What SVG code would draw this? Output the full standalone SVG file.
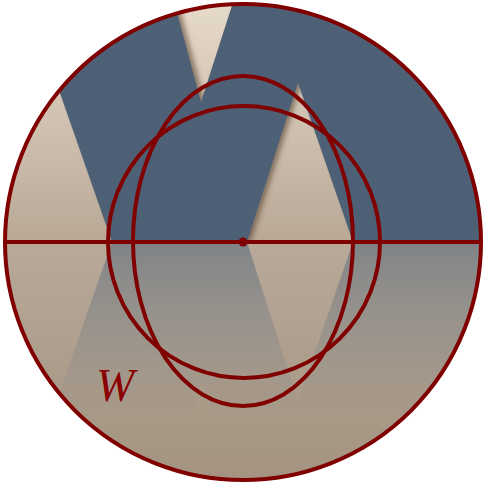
<svg xmlns="http://www.w3.org/2000/svg" width="486" height="486" viewBox="0 0 486 486">
  <defs>
    <clipPath id="top"><path d="M5,242 A238,238 0 0 1 481,242 Z"/></clipPath>
    <clipPath id="bot"><path d="M5,242 A238,238 0 0 0 481,242 Z"/></clipPath>
    <linearGradient id="beigeTop" gradientUnits="userSpaceOnUse" x1="0" y1="4" x2="0" y2="242">
      <stop offset="0" stop-color="#e6dacb"/>
      <stop offset="1" stop-color="#b9a896"/>
    </linearGradient>
    <linearGradient id="beigeBot" gradientUnits="userSpaceOnUse" x1="0" y1="242" x2="0" y2="480">
      <stop offset="0" stop-color="#b8a999"/>
      <stop offset="1" stop-color="#a39380"/>
    </linearGradient>
    <linearGradient id="reflect" gradientUnits="userSpaceOnUse" x1="0" y1="242" x2="0" y2="420">
      <stop offset="0" stop-color="#7f8387" stop-opacity="1"/>
      <stop offset="1" stop-color="#8a8a88" stop-opacity="0"/>
    </linearGradient>
    <filter id="shadow" x="-20%" y="-20%" width="140%" height="140%">
      <feGaussianBlur in="SourceAlpha" stdDeviation="2.5"/>
      <feOffset dx="4" dy="0" result="b"/>
      <feFlood flood-color="#5a4530" flood-opacity="0.6"/>
      <feComposite in2="b" operator="in"/>
      <feMerge><feMergeNode/><feMergeNode in="SourceGraphic"/></feMerge>
    </filter>
  </defs>
  <style>
    .ln{fill:none;stroke:#800000;stroke-width:4}
  </style>
  <g id="background">
    <path d="M5,242 A238,238 0 0 1 481,242 Z" fill="url(#beigeTop)"/>
    <path d="M5,242 A238,238 0 0 0 481,242 Z" fill="url(#beigeBot)"/>
    <polygon clip-path="url(#top)" filter="url(#shadow)" fill="#4e6175" points="24,-10 112,242 247,242 298,83 353,242 500,242 500,-10 237,-10 201,102 171,-10"/>
    <polygon clip-path="url(#bot)" fill="url(#reflect)" points="24,494 112,242 247,242 298,401 353,242 500,242 500,494 237,494 201,382 171,494"/>
  </g>
  <g id="connectors">
    <circle class="ln" cx="243" cy="242" r="238" stroke-width="3.5"/>
    <line class="ln" x1="5" y1="242" x2="481" y2="242" stroke-width="4.5"/>
    <circle id="circleA" class="ln" cx="244" cy="242" r="136"/>
    <ellipse id="ellipseB" class="ln" cx="243" cy="241" rx="110" ry="165"/>
  </g>
  <g id="center"><circle cx="243" cy="242" r="4.5" fill="#800000"/></g>
  <g id="label"><text x="96" y="401" font-family="Liberation Serif, serif" font-style="italic" font-size="46" fill="#8b0000">W</text></g>
</svg>
